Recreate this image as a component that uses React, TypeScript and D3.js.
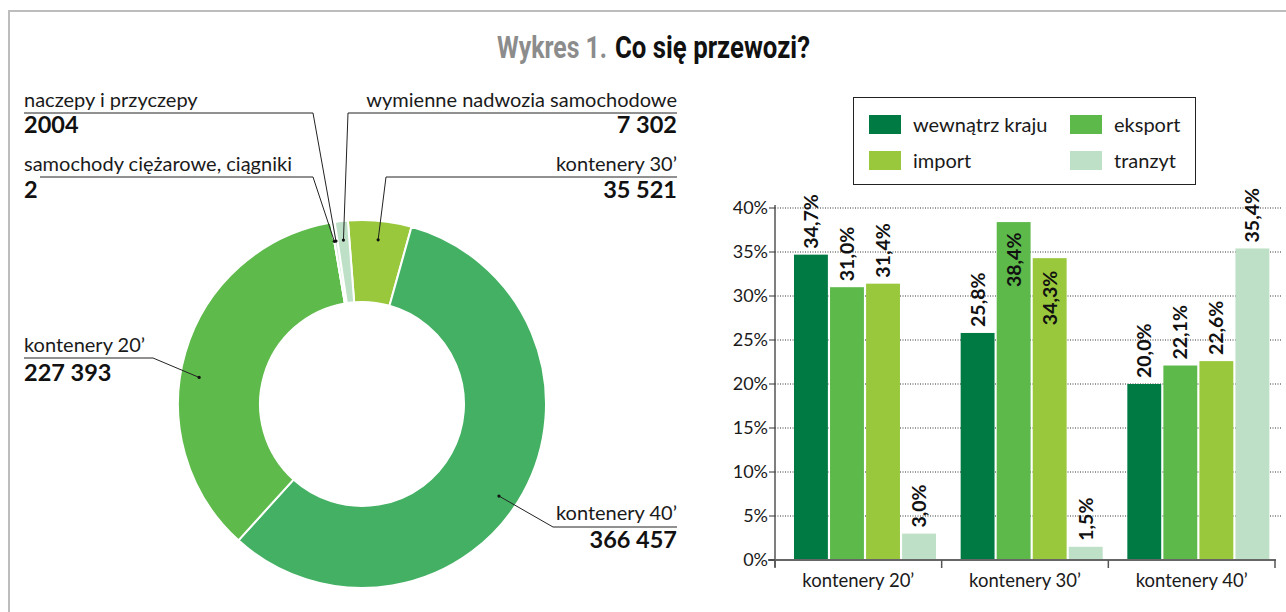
import React, { useEffect, useRef } from 'react';
import * as d3 from 'd3';

// donut: types of cargo units
const pieNames = ['kontenery 30’', 'kontenery 40’', 'kontenery 20’', 'samochody ciężarowe, ciągniki', 'naczepy i przyczepy', 'wymienne nadwozia samochodowe'];
const pieValues = [35521, 366457, 227393, 2, 2004, 7302];
const pieColors = ['#99c83c', '#43b063', '#5eba4a', '#d6ebd9', '#d6ebd9', '#bde0c6'];

// bars: share by transport direction
const categories = ['kontenery 20’', 'kontenery 30’', 'kontenery 40’'];
const seriesNames = ['wewnątrz kraju', 'eksport', 'import', 'tranzyt'];
const seriesColors = ['#007a43', '#5cb94a', '#99c83c', '#bde0c6'];
const wewnatrzKraju = [34.7, 25.8, 20.0];
const eksport = [31.0, 38.4, 22.1];
const importVals = [31.4, 34.3, 22.6];
const tranzyt = [3.0, 1.5, 35.4];
const yTicks = [0, 5, 10, 15, 20, 25, 30, 35, 40];

// label placement for the donut callouts (same order as pieNames)
const pieLabelLayout = [
  { side: 'right', nameY: 171, valueY: 198, lineY: 177, elbowX: 386, lineStart: 677, shift: 0 },
  { side: 'right', nameY: 520, valueY: 548, lineY: 527, elbowX: 553, lineStart: 677, shift: 5 },
  { side: 'left', nameY: 352, valueY: 381, lineY: 358, elbowX: 153, lineStart: 24, shift: -7 },
  { side: 'left', nameY: 171, valueY: 198, lineY: 177, elbowX: 313, lineStart: 40, shift: 0 },
  { side: 'left', nameY: 107, valueY: 133, lineY: 113, elbowX: 313, lineStart: 24, shift: 0 },
  { side: 'right', nameY: 107, valueY: 133, lineY: 113, elbowX: 348, lineStart: 677, shift: 0 },
];
// bar labels drawn inside the bar: "category-series" -> drop below bar top in px
const insideLabels: Record<string, number> = { '1-1': 65, '1-2': 67 };

const FONT = "Lato, 'Noto Sans', sans-serif";
const W = 1286;
const H = 612;

const fmtInt = (n: number) => (n >= 5000 ? d3.format(',')(n).replace(/,/g, ' ') : String(n));
const fmtPct = (n: number) => n.toFixed(1).replace('.', ',') + '%';

export default function App() {
  const ref = useRef<SVGSVGElement>(null);

  useEffect(() => {
    document.body.style.margin = '0';
    const svg = d3.select(ref.current);
    svg.selectAll('*').remove();

    // frame
    svg.append('path')
      .attr('d', `M9,${H} L9,11 L${W},11`)
      .attr('fill', 'none')
      .attr('stroke', '#bdbdbd')
      .attr('stroke-width', 2);

    // title, squeezed horizontally to look condensed
    const titleParts = [
      { text: 'Wykres 1.', x: 497, len: 110, color: '#8c8c8c' },
      { text: 'Co się przewozi?', x: 615, len: 195, color: '#111' },
    ];
    titleParts.forEach((t) => {
      const el = svg.append('text')
        .attr('font-family', "Roboto, 'Liberation Sans', sans-serif")
        .attr('font-weight', 'bold')
        .attr('font-size', 31)
        .attr('fill', t.color)
        .text(t.text);
      const natural = (el.node() as SVGTextElement).getComputedTextLength() || t.len;
      el.attr('transform', `translate(${t.x},58) scale(${t.len / natural},1)`);
    });

    drawDonut(svg);
    drawBars(svg);
  }, []);

  const drawDonut = (svg: any) => {
    const cx = 362, cy = 404, outerR = 184, innerR = 102;
    const g = svg.append('g').attr('transform', `translate(${cx},${cy})`);
    const start = (-4.4 * Math.PI) / 180;
    const pie = d3.pie<number>().sort(null).value((d) => d).startAngle(start).endAngle(start + 2 * Math.PI);
    const slices = pie(pieValues);
    const arc = d3.arc<any>().innerRadius(innerR).outerRadius(outerR);

    g.selectAll('path.slice')
      .data(slices)
      .enter()
      .append('path')
      .attr('class', 'slice')
      .attr('d', arc)
      .attr('fill', (d: any, i: number) => pieColors[i])
      .attr('stroke', '#fff')
      .attr('stroke-width', 2);

    slices.forEach((s: any, i: number) => {
      const L = pieLabelLayout[i];
      const a = (s.startAngle + s.endAngle) / 2 + (L.shift * Math.PI) / 180;
      const ax = cx + 165 * Math.sin(a);
      const ay = cy - 165 * Math.cos(a);

      svg.append('polyline')
        .attr('points', [[L.lineStart, L.lineY], [L.elbowX, L.lineY], [ax, ay]].map((p) => p.join(',')).join(' '))
        .attr('fill', 'none')
        .attr('stroke', '#222')
        .attr('stroke-width', 1);
      svg.append('circle').attr('cx', ax).attr('cy', ay).attr('r', 1.6).attr('fill', '#111');

      const tx = L.side === 'left' ? 24 : 677;
      const anchor = L.side === 'left' ? 'start' : 'end';
      svg.append('text')
        .attr('x', tx).attr('y', L.nameY)
        .attr('text-anchor', anchor)
        .attr('font-family', FONT)
        .attr('font-size', 20)
        .attr('fill', '#1a1a1a')
        .text(pieNames[i]);
      svg.append('text')
        .attr('x', tx).attr('y', L.valueY)
        .attr('text-anchor', anchor)
        .attr('font-family', FONT)
        .attr('font-weight', 'bold')
        .attr('font-size', 23.5)
        .attr('fill', '#111')
        .text(fmtInt(pieValues[i]));
    });
  };

  const drawBars = (svg: any) => {
    const series = [wewnatrzKraju, eksport, importVals, tranzyt];
    const x0 = d3.scaleBand<string>().domain(categories).range([775, 1275]);
    const x1 = d3.scaleBand<string>().domain(seriesNames).range([19, 161]).paddingInner(0.06);
    const y = d3.scaleLinear().domain([0, 40]).range([560, 208]);

    // dotted grid
    svg.selectAll('line.grid')
      .data(yTicks.filter((t) => t > 0))
      .enter()
      .append('line')
      .attr('x1', 775).attr('x2', 1282)
      .attr('y1', (d: number) => y(d)).attr('y2', (d: number) => y(d))
      .attr('stroke', '#333')
      .attr('stroke-width', 1)
      .attr('stroke-dasharray', '1,1.5');

    // bars
    categories.forEach((c, ci) => {
      const g = svg.append('g').attr('transform', `translate(${x0(c)},0)`);
      seriesNames.forEach((s, si) => {
        const v = series[si][ci];
        const bx = x1(s) as number;
        g.append('rect')
          .attr('x', bx).attr('y', y(v))
          .attr('width', x1.bandwidth())
          .attr('height', y(0) - y(v))
          .attr('fill', seriesColors[si]);
        const drop = insideLabels[`${ci}-${si}`];
        const ly = drop !== undefined ? y(v) + drop : y(v) - 6;
        g.append('text')
          .attr('transform', `translate(${bx + x1.bandwidth() / 2},${ly}) rotate(-90)`)
          .attr('dy', '0.36em')
          .attr('font-family', FONT)
          .attr('font-weight', 'bold')
          .attr('font-size', 19.5)
          .attr('fill', '#111')
          .text(fmtPct(v));
      });
    });

    // axes
    svg.append('line')
      .attr('x1', 775).attr('x2', 775).attr('y1', 205).attr('y2', 567)
      .attr('stroke', '#555').attr('stroke-width', 1.5);
    svg.append('line')
      .attr('x1', 768).attr('x2', 1276).attr('y1', y(0)).attr('y2', y(0))
      .attr('stroke', '#666').attr('stroke-width', 2);
    svg.selectAll('line.ytick')
      .data(yTicks)
      .enter()
      .append('line')
      .attr('x1', 769).attr('x2', 775)
      .attr('y1', (d: number) => y(d)).attr('y2', (d: number) => y(d))
      .attr('stroke', '#333').attr('stroke-width', 1);
    svg.selectAll('text.ylab')
      .data(yTicks)
      .enter()
      .append('text')
      .attr('x', 768).attr('y', (d: number) => y(d))
      .attr('dy', '0.36em')
      .attr('text-anchor', 'end')
      .attr('font-family', FONT)
      .attr('font-size', 18)
      .attr('fill', '#1a1a1a')
      .text((d: number) => d + '%');

    const bounds = categories.map((c) => x0(c) as number).concat([x0.range()[1]]);
    bounds.forEach((bx) => {
      svg.append('line')
        .attr('x1', bx).attr('x2', bx).attr('y1', y(0)).attr('y2', 568)
        .attr('stroke', '#555').attr('stroke-width', 1.5);
    });
    categories.forEach((c) => {
      svg.append('text')
        .attr('x', (x0(c) as number) + x0.bandwidth() / 2)
        .attr('y', 587)
        .attr('text-anchor', 'middle')
        .attr('font-family', FONT)
        .attr('font-size', 18.5)
        .attr('fill', '#1a1a1a')
        .text(c);
    });

    // legend
    svg.append('rect')
      .attr('x', 853.5).attr('y', 97.5).attr('width', 342).attr('height', 87)
      .attr('fill', '#fff').attr('stroke', '#222').attr('stroke-width', 1);
    seriesNames.forEach((s, i) => {
      const col = i % 2, row = Math.floor(i / 2);
      const lx = 869 + col * 201;
      const ly = 115 + row * 36;
      svg.append('rect').attr('x', lx).attr('y', ly).attr('width', 32).attr('height', 19).attr('fill', seriesColors[i]);
      svg.append('text')
        .attr('x', lx + 44).attr('y', ly + 10)
        .attr('dy', '0.36em')
        .attr('font-family', FONT)
        .attr('font-size', 20)
        .attr('fill', '#1a1a1a')
        .text(s);
    });
  };

  return <svg ref={ref} width={W} height={H} style={{ display: 'block', background: '#fff' }} />;
}
